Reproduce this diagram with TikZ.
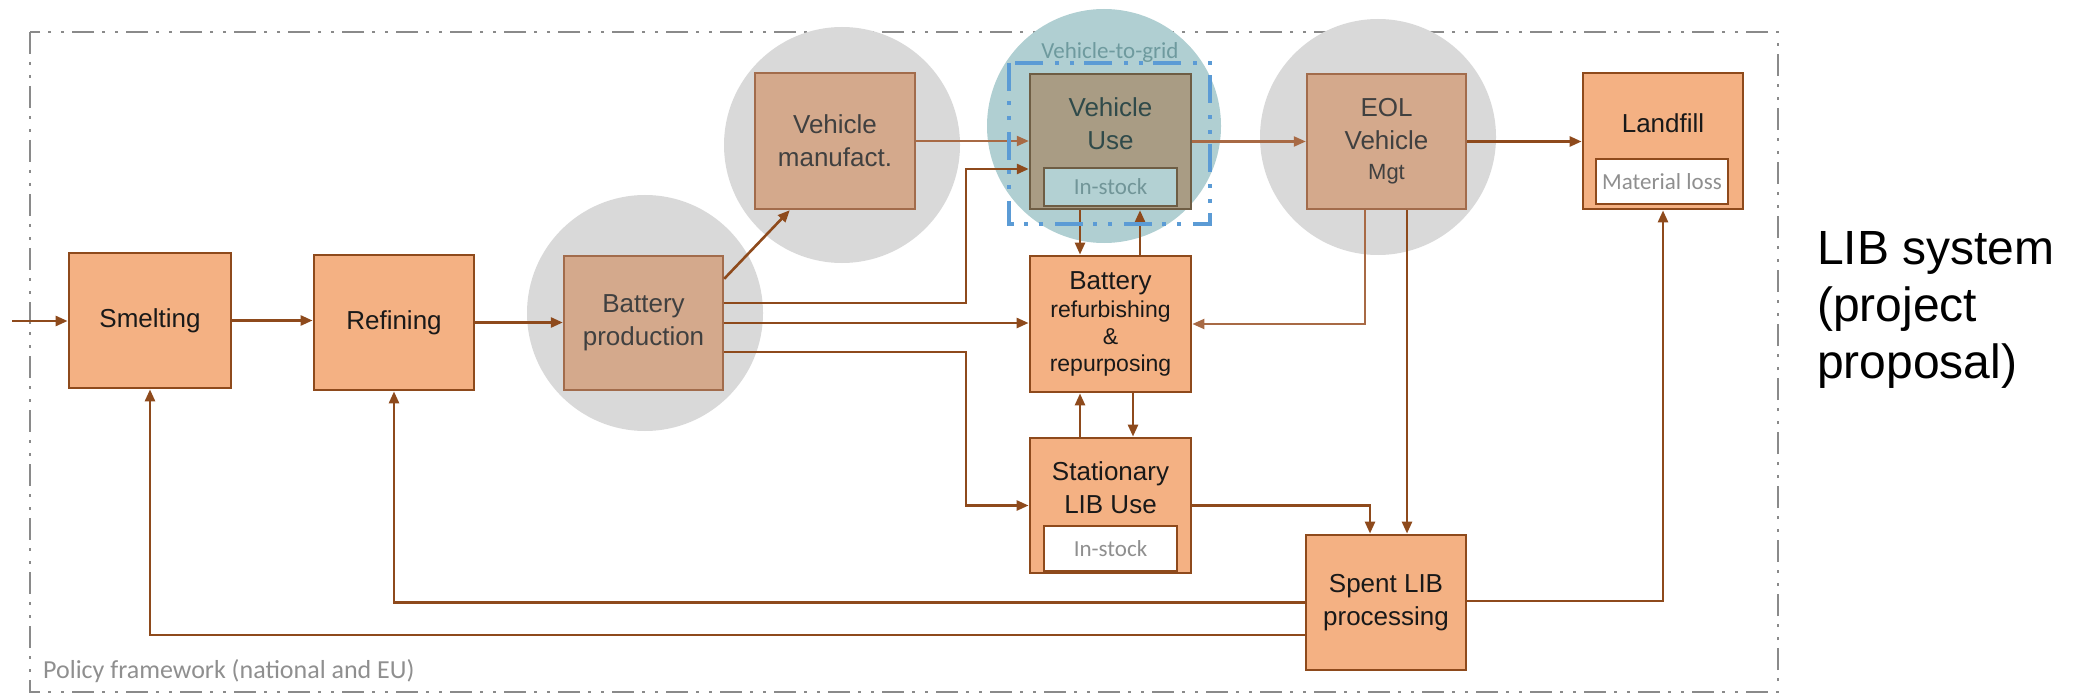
\documentclass[tikz,border=0pt]{standalone}
\usepackage{fontspec}
\setmainfont{Liberation Sans}
\newfontfamily\calib{Carlito}
\usetikzlibrary{arrows.meta,calc}
\definecolor{orfill}{HTML}{F4B183}
\definecolor{ordraw}{HTML}{8E4A1C}
\definecolor{tanfill}{HTML}{D4A98C}
\definecolor{tandraw}{HTML}{A26C4C}
\definecolor{vufill}{HTML}{A99C84}
\definecolor{vudraw}{HTML}{6E5D44}
\definecolor{tealc}{HTML}{B0CFD2}
\definecolor{tealbox}{HTML}{B3D1D3}
\definecolor{grayc}{HTML}{D9D9D9}
\definecolor{arrc}{HTML}{8E4A1C}
\definecolor{arrl}{HTML}{A86A45}
\definecolor{framec}{HTML}{8A8A8A}
\definecolor{bluec}{HTML}{5B9BD5}
\definecolor{labgray}{HTML}{8F8F8F}
\definecolor{tantext}{HTML}{404040}
\definecolor{vutext}{HTML}{2F4A4A}
\definecolor{v2gtext}{HTML}{6E9A9E}
\begin{document}
\begin{tikzpicture}[x=1pt,y=-1pt,
  orbox/.style={draw=ordraw, fill=orfill, line width=2.8pt, minimum width=160pt, minimum height=135pt, inner sep=0pt, align=center, font=\fontsize{26}{33}\selectfont, text=black!90},
  tanbox/.style={orbox, draw=tandraw, fill=tanfill, line width=2.4pt, text=tantext},
  subbox/.style={draw=ordraw, fill=white, line width=2.4pt, inner sep=0pt, font=\calib\fontsize{23}{26}\selectfont, text=labgray},
  boxlabel/.style={inner sep=0pt, align=center, font=\fontsize{26}{33}\selectfont},
  arr/.style={draw=arrc, line width=2.6pt, -{Triangle[length=12pt,width=10pt]}},
  arrlite/.style={arr, draw=arrl, line width=2.2pt},
  bubble/.style={circle, fill=grayc, minimum size=236pt, inner sep=0pt},
]
\useasboundingbox (0,0) rectangle (2080,695);

% policy frame
\draw[framec, line width=1.8pt, dash pattern=on 22pt off 8pt on 3pt off 10pt on 3pt off 8pt] (30,32) rectangle (1778,692);
\node[anchor=base west, inner sep=0pt, font=\calib\fontsize{26}{30}\selectfont, text=labgray] (policy) at (43,678) {Policy framework (national and EU)};

% bubbles
\node[bubble] (cbp) at (645,313) {};
\node[bubble] (cvm) at (842,145) {};
\node[bubble, fill=tealc, minimum size=234pt] (cvu) at (1104,126) {};
\node[bubble] (ceol) at (1378,137) {};

% boxes
\node[orbox, minimum width=162pt] (smelt) at (150,320.5) {Smelting};
\node[orbox] (ref) at (394,322.5) {Refining};
\node[tanbox, minimum width=159pt, minimum height=134pt] (bp) at (643.5,323) {Battery\\production};
\node[tanbox, minimum height=136pt] (vm) at (835,141) {Vehicle\\manufact.};
\node[orbox, draw=vudraw, fill=vufill, line width=2.4pt, minimum width=161pt] (vu) at (1110.5,141.5) {};
\node[tanbox, minimum width=159pt] (eol) at (1386.5,141.5) {EOL\\Vehicle\\[-3pt]{\fontsize{22}{26}\selectfont Mgt}};
\node[orbox, minimum height=136pt] (lf) at (1663,141) {};
\node[orbox, minimum width=161pt, minimum height=136pt, font=\fontsize{23}{27}\selectfont] (rf) at (1110.5,324) {{\fontsize{26}{30}\selectfont Battery}\\[1pt]refurbishing\\\&\\repurposing};
\node[orbox, minimum width=161pt] (st) at (1110.5,505.5) {};
\node[orbox] (sp) at (1386,602.5) {Spent LIB\\processing};

% sub boxes and labels
\node[subbox, draw=vudraw, fill=tealbox, text=v2gtext!80!gray, minimum width=133pt, minimum height=38pt] (vuis) at (1110.5,187) {In-stock};
\node[boxlabel, text=vutext] (vul) at (1110.5,124) {Vehicle\\Use};
\node[subbox, minimum width=132pt, minimum height=45pt] (lfml) at (1662,181.5) {Material loss};
\node[boxlabel, text=black!90] (lfl) at (1663,123) {Landfill};
\node[subbox, minimum width=133pt, minimum height=45pt] (stis) at (1110.5,548.5) {In-stock};
\node[boxlabel, text=black!90] (stl) at (1110.5,488) {Stationary\\LIB Use};

% named helper coordinates
\coordinate (in) at (12,321);
\coordinate (busx) at (966,0);
\coordinate (bpTop) at ($(bp.north east)+(0,24)$);
\coordinate (vmIn) at ($(vm.south west)+(36,0)$);
\coordinate (bpA) at ($(bp.east)+(0,-20)$);
\coordinate (bpC) at ($(bp.east)+(0,29)$);
\coordinate (vuIn) at ($(vu.west)+(0,27.5)$);
\coordinate (vuDown) at ($(vu.south)+(-30.5,0)$);
\coordinate (rfUp) at ($(rf.north)+(29.5,0)$);
\coordinate (eolA) at ($(eol.south)+(-21.5,0)$);
\coordinate (eolB) at ($(eol.south)+(20.5,0)$);
\coordinate (rfDown) at ($(rf.south)+(22.5,0)$);
\coordinate (stUp) at ($(st.north)+(-30.5,0)$);
\coordinate (spIn) at ($(sp.north)+(-16,0)$);
\coordinate (spOut) at ($(sp.east)+(0,-1.5)$);
\coordinate (spLow) at ($(sp.west)+(0,32.5)$);

% connectors
\draw[arr] (in) -- (in -| smelt.west);
\draw[arr] (smelt.east) -- (smelt.east -| ref.west);
\draw[arr] (ref.east) -- (ref.east -| bp.west);
\draw[arr] (bpTop) -- (vmIn);
\draw[arr] (bpA) -- (bpA -| busx) |- (vuIn);
\draw[arr] (bp.east) -- (bp.east -| rf.west);
\draw[arr] (bpC) -- (bpC -| busx) |- (st.west);
\draw[arrlite] (vm.east) -- (vm.east -| vu.west);
\draw[arrlite] (vu.east) -- (vu.east -| eol.west);
\draw[arr] (eol.east) -- (eol.east -| lf.west);
\draw[arr] (vuDown) -- (vuDown |- rf.north);
\draw[arr] (rfUp) -- (rfUp |- vu.south);
\draw[arrlite] (eolA) |- (rf.east);
\draw[arr] (eolB) -- (eolB |- sp.north);
\draw[arr] (rfDown) -- (rfDown |- st.north);
\draw[arr] (stUp) -- (stUp |- rf.south);
\draw[arr] (st.east) -| (spIn);
\draw[arr] (spOut) -| (lf.south);
\draw[arr] (sp.west) -| (ref.south);
\draw[arr] (spLow) -| (smelt.south);

% vehicle-to-grid boundary
\draw[bluec, line width=3.5pt, dash pattern=on 28pt off 10pt on 4pt off 11pt on 4pt off 12pt] (1009,63) rectangle (1210,224);
\node[inner sep=0pt, font=\calib\fontsize{23}{26}\selectfont, text=v2gtext] (v2g) at (1110,52) {Vehicle-to-grid};

% side title
\node[anchor=north west, inner sep=0pt, align=left, font=\fontsize{48}{57}\selectfont] (title) at (1817,231) {LIB system\\(project\\proposal)};
\end{tikzpicture}
\end{document}
